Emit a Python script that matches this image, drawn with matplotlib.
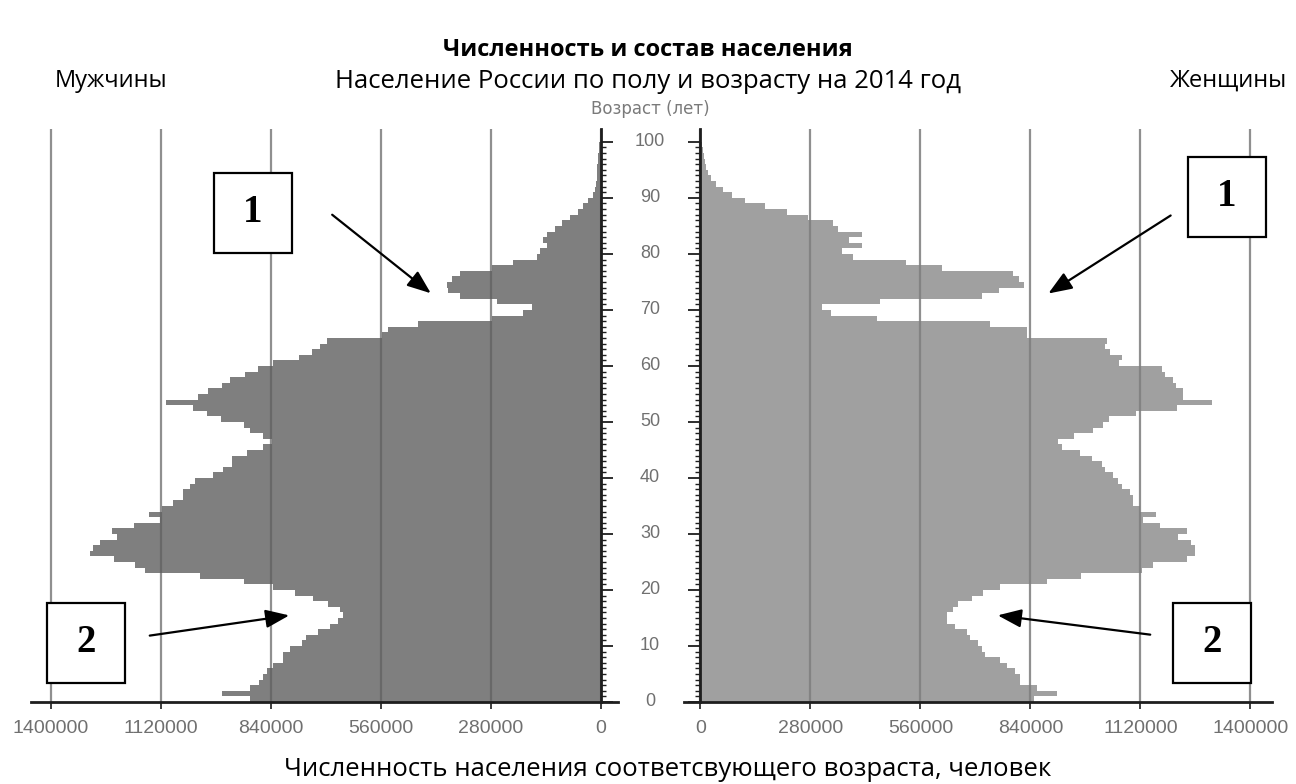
import matplotlib
matplotlib.use("Agg")
import matplotlib.pyplot as plt
import matplotlib.transforms as mtransforms
from matplotlib.patches import Rectangle, FancyArrowPatch
import numpy as np

# age groups 0..99, one bar per year
ages = np.arange(0, 100)

# population by age, thousands of people
male = [893, 966, 893, 870, 860, 851, 834, 809, 809, 792,
        760, 750, 720, 690, 669, 656, 664, 694, 732, 779,
        834, 910, 1021, 1161, 1186, 1240, 1300, 1292, 1275, 1233,
        1245, 1190, 1122, 1150, 1118, 1089, 1064, 1064, 1046, 1033,
        987, 961, 940, 940, 902, 860, 837, 860, 893, 910,
        967, 1004, 1038, 1107, 1025, 1000, 965, 944, 906, 872,
        834, 770, 736, 715, 698, 558, 541, 465, 278, 198,
        176, 265, 359, 389, 393, 380, 359, 278, 223, 164,
        155, 138, 147, 138, 117, 100, 79, 58, 45, 32,
        20, 14, 12, 11, 10, 9, 8, 7, 6, 5]

female = [850, 907, 856, 813, 813, 801, 780, 762, 724, 716,
          707, 686, 678, 648, 627, 627, 643, 656, 690, 720,
          762, 881, 970, 1123, 1153, 1238, 1259, 1259, 1250, 1216,
          1238, 1170, 1127, 1160, 1119, 1102, 1102, 1093, 1072, 1064,
          1051, 1030, 1021, 996, 966, 920, 910, 950, 1000, 1025,
          1040, 1110, 1212, 1301, 1229, 1229, 1210, 1203, 1182, 1174,
          1065, 1072, 1042, 1030, 1034, 830, 830, 738, 450, 332,
          309, 456, 716, 761, 823, 812, 795, 614, 524, 389,
          360, 411, 379, 411, 351, 338, 274, 219, 164, 113,
          80, 58, 40, 28, 20, 15, 11, 8, 6, 5]

x_ticks = [0, 280000, 560000, 840000, 1120000, 1400000]
age_ticks = list(range(0, 101, 10))

male = np.array(male) * 1000
female = np.array(female) * 1000

W, H = 1296, 784
fig = plt.figure(figsize=(W / 100, H / 100), dpi=100)
ax1 = fig.add_axes([31 / W, 82 / H, 587 / W, 573 / H])
ax2 = fig.add_axes([684 / W, 82 / H, 588 / W, 573 / H])

num_font = "Liberation Sans"
tick_gray = "#707070"
axis_col = "#1e1e1e"

ax1.barh(ages, male, height=1.0, align="edge", color="#5f5f5f", alpha=0.8,
         linewidth=0, antialiased=False, zorder=2)
ax2.barh(ages, female, height=1.0, align="edge", color="#808080", alpha=0.75,
         linewidth=0, antialiased=False, zorder=2)

ax1.set_xlim(1451000, -43300)
ax2.set_xlim(-42000, 1455000)
ax1.yaxis.set_ticks_position("right")
ax2.yaxis.set_ticks_position("left")

for ax, side in ((ax1, "right"), (ax2, "left")):
    ax.set_ylim(0, 102.3)
    ax.set_xticks(x_ticks)
    ax.set_xticklabels([str(v) for v in x_ticks], fontfamily=num_font,
                       fontsize=14, color=tick_gray)
    ax.set_yticks(age_ticks)
    ax.set_yticks(range(0, 101), minor=True)
    ax.grid(axis="x", color="#8f8f8f", linewidth=1.6, zorder=1)
    ax.set_axisbelow(True)
    for s in ("top", "left", "right"):
        ax.spines[s].set_visible(False)
    ax.spines[side].set_visible(True)
    ax.spines[side].set_position(("data", 0))
    ax.spines[side].set_color(axis_col)
    ax.spines[side].set_linewidth(2)
    ax.spines[side].set_zorder(3)
    ax.spines["bottom"].set_color(axis_col)
    ax.spines["bottom"].set_linewidth(2)
    ax.tick_params(axis="x", length=5, width=1.2, color=axis_col, pad=8)
    ax.tick_params(axis="y", which="major", length=8.5, width=1.3,
                   color=axis_col, direction="out")
    ax.tick_params(axis="y", which="minor", length=3.5, width=1.0,
                   color=axis_col, direction="out")
    ax.tick_params(axis="y", which="both", labelleft=False, labelright=False)
    ax.patch.set_alpha(0)

# age labels between the two halves
age_tr = mtransforms.blended_transform_factory(fig.transFigure, ax2.transData)
for a in age_ticks:
    fig.text(650 / W, a, str(a), transform=age_tr, ha="center", va="center",
             fontfamily=num_font, fontsize=13, color=tick_gray)
fig.text(650 / W, 1 - 109 / H, "Возраст (лет)", ha="center", va="center",
         fontfamily="DejaVu Sans", fontsize=12, color="#7a7a7a")

# titles
fig.text(0.5, 1 - 50 / H, "Численность и состав населения", ha="center",
         va="center", fontfamily="Open Sans", fontweight="bold", fontsize=17)
fig.text(0.5, 1 - 81 / H, "Население России по полу и возрасту на 2014 год",
         ha="center", va="center", fontfamily="Open Sans", fontsize=18.5)
fig.text(55 / W, 1 - 81 / H, "Мужчины", ha="left", va="center",
         fontfamily="Open Sans", fontsize=17)
fig.text(1287 / W, 1 - 81 / H, "Женщины", ha="right", va="center",
         fontfamily="Open Sans", fontsize=17)
fig.text(668 / W, 1 - 769 / H,
         "Численность населения соответсвующего возраста, человек",
         ha="center", va="center", fontfamily="Open Sans", fontsize=18.5)

# numbered boxes and arrows
boxes = [(214, 173, "1"), (1188, 157, "1"), (47, 603, "2"), (1173, 603, "2")]
for bx, by, num in boxes:
    fig.patches.append(Rectangle((bx / W, 1 - (by + 80) / H), 78 / W, 80 / H,
                                 transform=fig.transFigure, facecolor="white",
                                 edgecolor="black", linewidth=1.6, zorder=5))
    fig.text((bx + 39) / W, 1 - (by + 40) / H, num, ha="center", va="center",
             fontfamily="Liberation Serif", fontweight="bold", fontsize=28,
             zorder=6)

arrows = [((330, 213), (433, 295)), ((1173, 214), (1046, 295)),
          ((147, 636), (292, 615)), ((1153, 635), (995, 615))]
for (x0, y0), (x1, y1) in arrows:
    fig.add_artist(FancyArrowPatch(
        (x0 / W, 1 - y0 / H), (x1 / W, 1 - y1 / H),
        transform=fig.transFigure,
        arrowstyle="-|>,head_length=0.9,head_width=0.35",
        mutation_scale=16, color="black", linewidth=1.6, zorder=6))

fig.savefig("out.png", dpi=100)
